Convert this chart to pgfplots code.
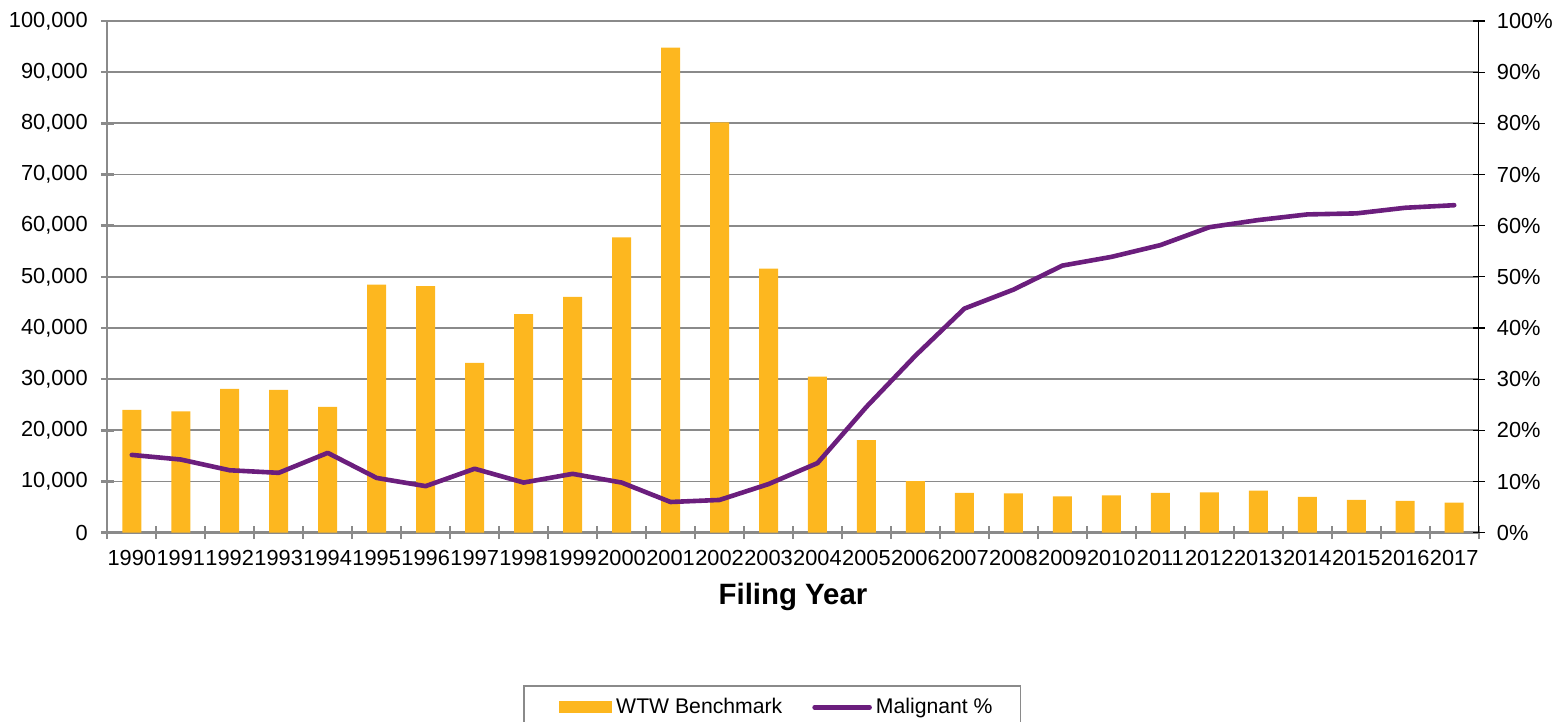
\documentclass[border=0pt]{standalone}
\usepackage{fontspec}
\setmainfont{Liberation Sans}
\usepackage{pgfplots}
\pgfplotsset{compat=1.18}
\definecolor{barc}{HTML}{FDB71F}
\definecolor{linec}{HTML}{6B1E7D}
\definecolor{gridc}{HTML}{8A8A8A}
\begin{document}
\begin{tikzpicture}
\useasboundingbox (-53.65pt,-94.65pt) rectangle (728.35pt,266.35pt);
\begin{axis}[
  scale only axis, width=685.7pt, height=255.85pt,
  at={(0pt,0pt)}, anchor=south west,
  xmin=-0.5, xmax=27.5, ymin=0, ymax=100000,
  axis x line*=bottom, axis y line*=left,
  axis line style={gridc, line width=1.2pt},
  tick align=center, major tick length=6.5pt,
  tick style={gridc, line width=1.2pt},
  xtick={-0.5,0.5,...,27.5},
  x tick label as interval,
  xticklabels={1990,1991,1992,1993,1994,1995,1996,1997,1998,1999,2000,2001,2002,2003,2004,2005,2006,2007,2008,2009,2010,2011,2012,2013,2014,2015,2016,2017},
  xticklabel style={yshift=-1.8pt},
  ytick={0,10000,20000,30000,40000,50000,60000,70000,80000,90000,100000},
  yticklabels={0,{10,000},{20,000},{30,000},{40,000},{50,000},{60,000},{70,000},{80,000},{90,000},{100,000}},
  ymajorgrids, grid style={gridc, line width=0.9pt},
  scaled y ticks=false,
  yticklabel style={xshift=-3pt},
  ticklabel style={font=\fontsize{10.9}{12}\selectfont, text=black},
  xlabel={Filing Year},
  xlabel style={font=\bfseries\fontsize{14.7}{17}\selectfont, at={(axis description cs:0.5,0)}, anchor=base, yshift=-35.8pt},
]
\addplot[ybar, bar width=9.5pt, bar shift=0pt, fill=barc, draw=none] coordinates {
(0,24000) (1,23700) (2,28100) (3,27900) (4,24600) (5,48500) (6,48200) (7,33200)
(8,42700) (9,46100) (10,57700) (11,94800) (12,80200) (13,51600) (14,30500) (15,18100)
(16,10100) (17,7800) (18,7700) (19,7100) (20,7300) (21,7800) (22,7900) (23,8200)
(24,7000) (25,6400) (26,6200) (27,5900)};
\end{axis}
\begin{axis}[
  scale only axis, width=685.7pt, height=255.85pt,
  at={(0pt,0pt)}, anchor=south west,
  xmin=-0.5, xmax=27.5, ymin=0, ymax=100,
  axis x line=none, axis y line*=right,
  axis line style={black, line width=0.6pt},
  tick align=center, major tick length=6pt,
  ytick style={black, line width=0.6pt},
  xtick=\empty,
  ytick={0,10,20,30,40,50,60,70,80,90,100},
  yticklabels={0\%,10\%,20\%,30\%,40\%,50\%,60\%,70\%,80\%,90\%,100\%},
  yticklabel style={xshift=2.6pt},
  ticklabel style={font=\fontsize{10.9}{12}\selectfont, text=black},
  legend columns=2,
  legend style={at={(0.3033,0)}, anchor=north west, yshift=-76.3pt,
    draw=gridc, line width=0.8pt, inner xsep=12pt, inner ysep=4pt,
    font=\fontsize{10.6}{12}\selectfont,
    /tikz/every even column/.append style={column sep=13pt}},
]
\addlegendimage{legend image code/.code={\path (0pt,0pt); \fill[barc] (5.5pt,-2.7pt) rectangle (31.3pt,2.7pt);}}
\addlegendentry{WTW Benchmark}
\addplot[linec, line width=2.3pt, line join=round, line cap=round,
  legend image code/.code={\draw[linec, line width=2.3pt, line cap=round] (0pt,0pt) -- (27.5pt,0pt);}] coordinates {
(0,15.2) (1,14.3) (2,12.2) (3,11.7) (4,15.6) (5,10.7) (6,9.1) (7,12.5)
(8,9.8) (9,11.5) (10,9.8) (11,6.0) (12,6.4) (13,9.5) (14,13.6) (15,24.6)
(16,34.6) (17,43.8) (18,47.5) (19,52.2) (20,53.9) (21,56.2) (22,59.7) (23,61.1)
(24,62.2) (25,62.4) (26,63.5) (27,64.0)};
\addlegendentry{Malignant \%}
\end{axis}
\end{tikzpicture}
\end{document}
